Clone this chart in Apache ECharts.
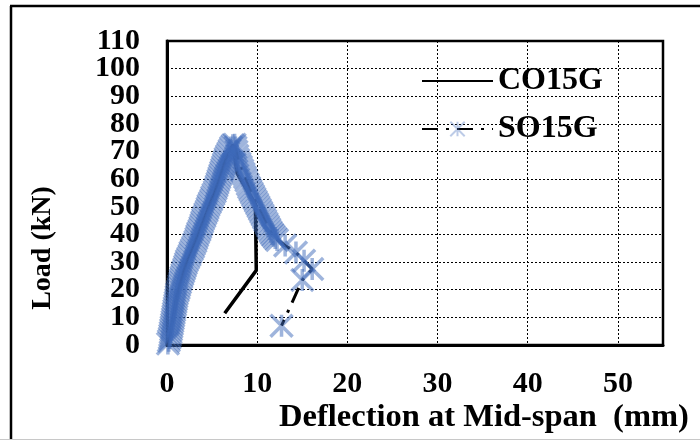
<!DOCTYPE html>
<html>
<head>
<meta charset="utf-8">
<script src="https://cdn.jsdelivr.net/npm/echarts@6/dist/echarts.min.js"></script>
<style>
  html, body { margin: 0; padding: 0; background: #fff; }
  #loadChart { width: 700px; height: 440px; }
</style>
</head>
<body>
<div id="loadChart"></div>
<script>
// values: [deflection mm, load kN]
const co15g = [
    [0, 0], [0.6, 8.5], [1.3, 20.5], [2.2, 30.5], [3.6, 41.5], [5.3, 55.5], [6.65, 68.5], [7.3, 72.3],
    [7.6, 66], [7.8, 62], [8.8, 56.5], [9.8, 51], [9.9, 27], [6.4, 11.5]
];
// SO15G was logged densely, the read-off keeps that density
const so15g = [
    [0.1, 0.5], [0.2, 1.5], [0.3, 2.5], [0.35, 3.5], [0.4, 4.5], [0.45, 5.5], [0.5, 6.5], [0.55, 7.5],
    [0.6, 8.5], [0.65, 9.5], [0.7, 10.5], [0.75, 11.5], [0.8, 12.5], [0.85, 13.5], [0.9, 14.5], [0.95, 15.5],
    [1.0, 16.5], [1.05, 17.5], [1.1, 18.5], [1.2, 19.5], [1.3, 20.5], [1.35, 21.5], [1.45, 22.5], [1.5, 23.5],
    [1.6, 24.5], [1.7, 25.5], [1.8, 26.5], [1.9, 27.5], [2.0, 28.5], [2.1, 29.5], [2.2, 30.5], [2.35, 31.5],
    [2.5, 32.5], [2.6, 33.5], [2.75, 34.5], [2.9, 35.5], [3.0, 36.5], [3.15, 37.5], [3.25, 38.5], [3.35, 39.5],
    [3.45, 40.5], [3.6, 41.5], [3.7, 42.5], [3.8, 43.5], [3.9, 44.5], [4.0, 45.5], [4.15, 46.5], [4.25, 47.5],
    [4.4, 48.5], [4.5, 49.5], [4.6, 50.5], [4.75, 51.5], [4.9, 52.5], [5.0, 53.5], [5.15, 54.5], [5.3, 55.5],
    [5.4, 56.5], [5.5, 57.5], [5.6, 58.5], [5.7, 59.5], [5.8, 60.5], [5.9, 61.5], [6.0, 62.5], [6.1, 63.5],
    [6.2, 64.5], [6.3, 65.5], [6.4, 66.5], [6.5, 67.5], [6.65, 68.5], [6.8, 69.5], [6.95, 70.5], [7.1, 71.5],
    [7.3, 72.3], [7.5, 72.5], [7.6, 71.5], [7.7, 70], [7.8, 68.5], [7.9, 67], [8.05, 65.7], [8.2, 64.5],
    [8.35, 63.2], [8.5, 62], [8.65, 60.7], [8.8, 59.5], [8.95, 58.2], [9.1, 57], [9.25, 56], [9.4, 55],
    [9.55, 54], [9.7, 53], [9.85, 52], [10.0, 51], [10.15, 50], [10.3, 49], [10.45, 48], [10.6, 47],
    [10.75, 46], [10.9, 45], [11.05, 44], [11.2, 43], [11.35, 42], [11.5, 41], [11.65, 40.2], [11.8, 39.5],
    [12.0, 38.7], [12.2, 38], [13.1, 36], [14.3, 33.5], [15.2, 30.5], [16.1, 27.5],
    [15.0, 23.5], [12.7, 7]
];
const seriesNames = ['CO15G', 'SO15G'];
const xTitle = 'Deflection at Mid-span  (mm)';
const yTitle = 'Load (kN)';

const starMark = 'path://M0,0L10,10M10,0L0,10M5,0L5,10';
const serif = 'Liberation Serif';
const tickFont = { fontFamily: serif, fontWeight: 'bold', fontSize: 30, color: '#000' };
const dotted = { lineStyle: { color: '#000', type: [2, 2], width: 1 } };

const myChart = echarts.init(document.getElementById('loadChart'));

const option = {
    animation: false,
    backgroundColor: '#fff',
    grid: {
        left: 167, top: 41, right: 37, bottom: 95,
        show: true, borderColor: '#000', borderWidth: 2.5
    },
    legend: {
        orient: 'vertical',
        left: 416, top: 60,
        itemWidth: 71, itemHeight: 18, itemGap: 16,
        textStyle: { fontFamily: serif, fontWeight: 'bold', fontSize: 32, color: '#000' },
        data: [
            { name: seriesNames[0], itemStyle: { opacity: 0 } },
            { name: seriesNames[1], itemStyle: { borderColor: 'rgba(62,106,185,0.35)', borderWidth: 2 } }
        ]
    },
    xAxis: {
        type: 'value', min: 0, max: 55, interval: 10,
        axisLine: { onZero: false, lineStyle: { color: '#000', width: 3 } },
        axisTick: { show: false },
        axisLabel: Object.assign({ showMinLabel: true, showMaxLabel: false, margin: 24 }, tickFont),
        splitLine: dotted
    },
    // labels sit closer than their font height: the inner ticks go on the first axis,
    // the two end labels on a second axis so none of them is dropped as overlapping
    yAxis: [
        {
            type: 'value', min: 0, max: 110, interval: 10,
            axisLine: { show: true, onZero: false, lineStyle: { color: '#000', width: 3 } },
            axisTick: { show: false },
            axisLabel: Object.assign({ showMinLabel: false, showMaxLabel: false, margin: 27 }, tickFont),
            splitLine: dotted
        },
        {
            type: 'value', min: 0, max: 110, interval: 110, position: 'left',
            axisLine: { show: false },
            axisTick: { show: false },
            axisLabel: Object.assign({ showMinLabel: true, showMaxLabel: true, margin: 27 }, tickFont),
            splitLine: { show: false }
        }
    ],
    graphic: [
        { type: 'line', shape: { x1: 10, y1: 6, x2: 700, y2: 6 }, style: { stroke: '#000', lineWidth: 2.5 } },
        { type: 'line', shape: { x1: 11, y1: 6, x2: 11, y2: 440 }, style: { stroke: '#000', lineWidth: 2.5 } },
        { type: 'line', shape: { x1: 0, y1: 439.5, x2: 700, y2: 439.5 }, style: { stroke: '#c8c8c8', lineWidth: 1 } },
        {
            type: 'text', x: 484, y: 418,
            style: {
                text: xTitle, fontFamily: serif, fontWeight: 'bold', fontSize: 32.5,
                fill: '#000', align: 'center', verticalAlign: 'middle'
            }
        },
        {
            type: 'text', x: 43, y: 248, rotation: Math.PI / 2,
            style: {
                text: yTitle, fontFamily: serif, fontWeight: 'bold', fontSize: 28,
                fill: '#000', align: 'center', verticalAlign: 'middle'
            }
        }
    ],
    series: [
        {
            name: seriesNames[0],
            type: 'line',
            data: co15g,
            showSymbol: false,
            symbol: 'none',
            lineStyle: { color: '#000', width: 3.5 },
            itemStyle: { color: '#000' },
            z: 2
        },
        {
            name: seriesNames[1],
            type: 'line',
            data: so15g,
            symbol: starMark,
            symbolSize: 22,
            showAllSymbol: true,
            lineStyle: { color: '#000', width: 3, type: [16, 8, 3, 8] },
            itemStyle: {
                color: 'rgba(0,0,0,0)',
                borderColor: 'rgba(62,106,185,0.5)',
                borderWidth: 3.5
            },
            z: 3
        }
    ]
};

myChart.setOption(option);
</script>
</body>
</html>
